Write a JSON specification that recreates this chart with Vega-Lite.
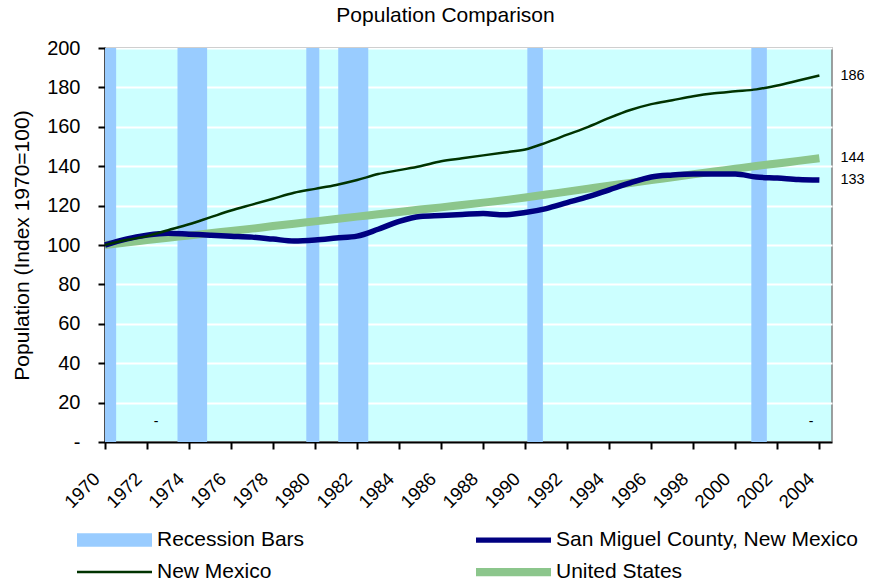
{
  "$schema": "https://vega.github.io/schema/vega-lite/v6.json",
  "width": 727,
  "height": 394,
  "padding": {"left": 11, "top": 5, "right": 2, "bottom": 2},
  "title": {"text": "Population Comparison", "fontSize": 21, "fontWeight": "normal", "color": "black", "dx": -23, "offset": 12},
  "config": {
    "font": "Liberation Sans",
    "view": {"stroke": "#808080", "strokeWidth": 1.5, "fill": "#ccffff"},
    "axis": {"domainColor": "black", "domainWidth": 2, "tickColor": "black", "tickWidth": 2, "tickSize": 7, "labelFontSize": 20, "labelColor": "black", "titleFontSize": 21, "titleFontWeight": "normal", "titleColor": "black", "labelOverlap": false},
    "legend": {"labelFontSize": 21, "labelColor": "black", "labelLimit": 400}
  },
  "datasets": {
    "series": [
      {"year": 1970, "series": "New Mexico", "value": 100},
      {"year": 1971, "series": "New Mexico", "value": 102.5},
      {"year": 1972, "series": "New Mexico", "value": 104.5},
      {"year": 1973, "series": "New Mexico", "value": 107.5},
      {"year": 1974, "series": "New Mexico", "value": 110.5},
      {"year": 1975, "series": "New Mexico", "value": 114},
      {"year": 1976, "series": "New Mexico", "value": 117.5},
      {"year": 1977, "series": "New Mexico", "value": 120.5},
      {"year": 1978, "series": "New Mexico", "value": 123.5},
      {"year": 1979, "series": "New Mexico", "value": 126.5},
      {"year": 1980, "series": "New Mexico", "value": 128.5},
      {"year": 1981, "series": "New Mexico", "value": 130.5},
      {"year": 1982, "series": "New Mexico", "value": 133},
      {"year": 1983, "series": "New Mexico", "value": 136},
      {"year": 1984, "series": "New Mexico", "value": 138},
      {"year": 1985, "series": "New Mexico", "value": 140},
      {"year": 1986, "series": "New Mexico", "value": 142.5},
      {"year": 1987, "series": "New Mexico", "value": 144},
      {"year": 1988, "series": "New Mexico", "value": 145.5},
      {"year": 1989, "series": "New Mexico", "value": 147},
      {"year": 1990, "series": "New Mexico", "value": 148.5},
      {"year": 1991, "series": "New Mexico", "value": 152},
      {"year": 1992, "series": "New Mexico", "value": 156},
      {"year": 1993, "series": "New Mexico", "value": 160},
      {"year": 1994, "series": "New Mexico", "value": 164.5},
      {"year": 1995, "series": "New Mexico", "value": 168.5},
      {"year": 1996, "series": "New Mexico", "value": 171.5},
      {"year": 1997, "series": "New Mexico", "value": 173.5},
      {"year": 1998, "series": "New Mexico", "value": 175.5},
      {"year": 1999, "series": "New Mexico", "value": 177},
      {"year": 2000, "series": "New Mexico", "value": 178},
      {"year": 2001, "series": "New Mexico", "value": 179},
      {"year": 2002, "series": "New Mexico", "value": 181},
      {"year": 2003, "series": "New Mexico", "value": 183.5},
      {"year": 2004, "series": "New Mexico", "value": 186},
      {"year": 1970, "series": "San Miguel County, New Mexico", "value": 100},
      {"year": 1971, "series": "San Miguel County, New Mexico", "value": 103},
      {"year": 1972, "series": "San Miguel County, New Mexico", "value": 105},
      {"year": 1973, "series": "San Miguel County, New Mexico", "value": 106},
      {"year": 1974, "series": "San Miguel County, New Mexico", "value": 105.5},
      {"year": 1975, "series": "San Miguel County, New Mexico", "value": 105},
      {"year": 1976, "series": "San Miguel County, New Mexico", "value": 104.5},
      {"year": 1977, "series": "San Miguel County, New Mexico", "value": 104},
      {"year": 1978, "series": "San Miguel County, New Mexico", "value": 103},
      {"year": 1979, "series": "San Miguel County, New Mexico", "value": 102},
      {"year": 1980, "series": "San Miguel County, New Mexico", "value": 102.5},
      {"year": 1981, "series": "San Miguel County, New Mexico", "value": 103.5},
      {"year": 1982, "series": "San Miguel County, New Mexico", "value": 104.5},
      {"year": 1983, "series": "San Miguel County, New Mexico", "value": 108},
      {"year": 1984, "series": "San Miguel County, New Mexico", "value": 112},
      {"year": 1985, "series": "San Miguel County, New Mexico", "value": 114.5},
      {"year": 1986, "series": "San Miguel County, New Mexico", "value": 115},
      {"year": 1987, "series": "San Miguel County, New Mexico", "value": 115.5},
      {"year": 1988, "series": "San Miguel County, New Mexico", "value": 116},
      {"year": 1989, "series": "San Miguel County, New Mexico", "value": 115.3},
      {"year": 1990, "series": "San Miguel County, New Mexico", "value": 116.5},
      {"year": 1991, "series": "San Miguel County, New Mexico", "value": 118.5},
      {"year": 1992, "series": "San Miguel County, New Mexico", "value": 121.5},
      {"year": 1993, "series": "San Miguel County, New Mexico", "value": 124.5},
      {"year": 1994, "series": "San Miguel County, New Mexico", "value": 128},
      {"year": 1995, "series": "San Miguel County, New Mexico", "value": 131.5},
      {"year": 1996, "series": "San Miguel County, New Mexico", "value": 134.5},
      {"year": 1997, "series": "San Miguel County, New Mexico", "value": 135.5},
      {"year": 1998, "series": "San Miguel County, New Mexico", "value": 136},
      {"year": 1999, "series": "San Miguel County, New Mexico", "value": 136},
      {"year": 2000, "series": "San Miguel County, New Mexico", "value": 136},
      {"year": 2001, "series": "San Miguel County, New Mexico", "value": 134.5},
      {"year": 2002, "series": "San Miguel County, New Mexico", "value": 134},
      {"year": 2003, "series": "San Miguel County, New Mexico", "value": 133.3},
      {"year": 2004, "series": "San Miguel County, New Mexico", "value": 133},
      {"year": 1970, "series": "United States", "value": 100},
      {"year": 1971, "series": "United States", "value": 101.3},
      {"year": 1972, "series": "United States", "value": 102.5},
      {"year": 1973, "series": "United States", "value": 103.7},
      {"year": 1974, "series": "United States", "value": 104.8},
      {"year": 1975, "series": "United States", "value": 106},
      {"year": 1976, "series": "United States", "value": 107.1},
      {"year": 1977, "series": "United States", "value": 108.3},
      {"year": 1978, "series": "United States", "value": 109.6},
      {"year": 1979, "series": "United States", "value": 110.8},
      {"year": 1980, "series": "United States", "value": 112},
      {"year": 1981, "series": "United States", "value": 113.2},
      {"year": 1982, "series": "United States", "value": 114.4},
      {"year": 1983, "series": "United States", "value": 115.6},
      {"year": 1984, "series": "United States", "value": 116.8},
      {"year": 1985, "series": "United States", "value": 118},
      {"year": 1986, "series": "United States", "value": 119.1},
      {"year": 1987, "series": "United States", "value": 120.3},
      {"year": 1988, "series": "United States", "value": 121.5},
      {"year": 1989, "series": "United States", "value": 122.7},
      {"year": 1990, "series": "United States", "value": 124.1},
      {"year": 1991, "series": "United States", "value": 125.6},
      {"year": 1992, "series": "United States", "value": 127.1},
      {"year": 1993, "series": "United States", "value": 128.6},
      {"year": 1994, "series": "United States", "value": 130.1},
      {"year": 1995, "series": "United States", "value": 131.5},
      {"year": 1996, "series": "United States", "value": 133},
      {"year": 1997, "series": "United States", "value": 134.4},
      {"year": 1998, "series": "United States", "value": 135.9},
      {"year": 1999, "series": "United States", "value": 137.3},
      {"year": 2000, "series": "United States", "value": 138.7},
      {"year": 2001, "series": "United States", "value": 140.1},
      {"year": 2002, "series": "United States", "value": 141.4},
      {"year": 2003, "series": "United States", "value": 142.7},
      {"year": 2004, "series": "United States", "value": 144}
    ],
    "recessions": [
      {"year": 1970.0, "end": 1970.53, "series": "Recession Bars", "value": 200},
      {"year": 1973.45, "end": 1974.86, "series": "Recession Bars", "value": 200},
      {"year": 1979.58, "end": 1980.2, "series": "Recession Bars", "value": 200},
      {"year": 1981.1, "end": 1982.53, "series": "Recession Bars", "value": 200},
      {"year": 1990.1, "end": 1990.84, "series": "Recession Bars", "value": 200},
      {"year": 2000.76, "end": 2001.5, "series": "Recession Bars", "value": 200}
    ],
    "endLabels": [
      {"year": 2004, "value": 186, "text": "186"},
      {"year": 2004, "value": 144, "text": "144"},
      {"year": 2004, "value": 133, "text": "133"}
    ],
    "dashes": [
      {"year": 1972.43, "value": 10, "text": "-"},
      {"year": 2003.6, "value": 10, "text": "-"}
    ]
  },
  "encoding": {
    "x": {"field": "year", "type": "quantitative", "scale": {"domain": [1970, 2004.6], "nice": false, "zero": false},
      "axis": {"values": [1970,1972,1974,1976,1978,1980,1982,1984,1986,1988,1990,1992,1994,1996,1998,2000,2002,2004], "format": "d", "labelAngle": -45, "labelFontSize": 18.5, "grid": false, "title": null, "labelPadding": 20, "labelOffset": -15}},
    "y": {"field": "value", "type": "quantitative", "scale": {"domain": [0, 200], "nice": false, "zero": true},
      "axis": {"values": [0,20,40,60,80,100,120,140,160,180,200], "grid": true, "gridColor": "white", "gridWidth": 2, "gridOpacity": 1, "title": "Population (Index 1970=100)", "labelExpr": "datum.value == 0 ? '-' : datum.label", "labelPadding": 18, "titlePadding": 14}}
  },
  "layer": [
    {
      "data": {"name": "recessions"},
      "mark": {"type": "rect"},
      "encoding": {
        "x2": {"field": "end"},
        "y2": {"datum": 0},
        "color": {"field": "series", "type": "nominal",
          "scale": {"domain": ["Recession Bars", "San Miguel County, New Mexico", "New Mexico", "United States"], "range": ["#99ccff", "#000080", "#003300", "#8cc68c"]},
          "legend": {"title": null, "orient": "none", "legendX": -28, "legendY": 481, "direction": "horizontal", "columns": 2, "symbolType": "square", "symbolSize": 441, "symbolOffset": 0, "columnPadding": 171, "rowPadding": 11, "labelOffset": 5,
            "encode": {
              "symbols": {"update": {
                "size": {"value": 5625},
                "x": {"value": 37.5},
                "y": {"value": 11},
                "shape": {"signal": "datum.value == 'Recession Bars' ? 'M-1,-0.18H1V0.18H-1Z' : datum.value == 'New Mexico' ? 'M-1,-0.035H1V0.035H-1Z' : datum.value == 'United States' ? 'M-1,-0.11H1V0.11H-1Z' : 'M-1,-0.07H1V0.07H-1Z'"},
                "fill": {"scale": "color", "field": "value"},
                "stroke": {"value": null},
                "strokeWidth": {"value": 0},
                "opacity": {"value": 1},
                "fillOpacity": {"value": 1}}},
              "labels": {"update": {"y": {"value": 11}}}
            }}
        }
      }
    },
    {
      "data": {"name": "series"},
      "transform": [{"filter": "datum.series == 'United States'"}],
      "mark": {"type": "line", "strokeWidth": 8, "interpolate": "monotone"},
      "encoding": {"color": {"field": "series", "type": "nominal"}}
    },
    {
      "data": {"name": "series"},
      "transform": [{"filter": "datum.series == 'San Miguel County, New Mexico'"}],
      "mark": {"type": "line", "strokeWidth": 5.5, "interpolate": "monotone"},
      "encoding": {"color": {"field": "series", "type": "nominal"}}
    },
    {
      "data": {"name": "series"},
      "transform": [{"filter": "datum.series == 'New Mexico'"}],
      "mark": {"type": "line", "strokeWidth": 2.5, "interpolate": "monotone"},
      "encoding": {"color": {"field": "series", "type": "nominal"}}
    },
    {
      "data": {"name": "endLabels"},
      "mark": {"type": "text", "align": "left", "baseline": "middle", "dx": 21, "fontSize": 14.5, "color": "black"},
      "encoding": {"text": {"field": "text"}}
    },
    {
      "data": {"name": "dashes"},
      "mark": {"type": "text", "align": "center", "baseline": "middle", "fontSize": 14, "color": "black"},
      "encoding": {"text": {"field": "text"}}
    }
  ]
}
